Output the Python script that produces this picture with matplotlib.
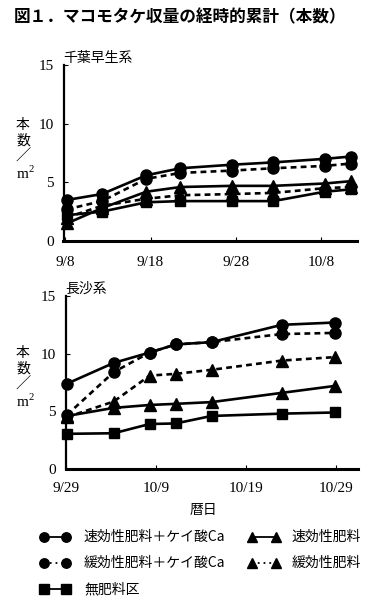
import matplotlib
matplotlib.use('Agg')
import matplotlib.pyplot as plt
from matplotlib.lines import Line2D

plt.rcParams['font.family'] = ['Liberation Serif', 'Noto Sans CJK JP']

W, H = 381, 611

# ---- data: 千葉早生系 (days after 9/8)
chiba_days = [0.2, 4.3, 9.5, 13.5, 19.5, 24.4, 30.4, 33.5]
chiba_fast_si = [3.5, 4.0, 5.6, 6.2, 6.5, 6.7, 7.0, 7.2]
chiba_slow_si = [2.7, 3.4, 5.3, 5.8, 6.0, 6.2, 6.4, 6.6]
chiba_fast = [1.5, 2.8, 4.2, 4.6, 4.7, 4.7, 4.9, 5.1]
chiba_slow = [2.0, 3.0, 3.6, 3.9, 4.0, 4.1, 4.5, 4.6]
chiba_none = [2.2, 2.5, 3.3, 3.4, 3.4, 3.4, 4.2, 4.4]
chiba_ticks = [0, 10, 20, 30]
chiba_ticklabels = ['9/8', '9/18', '9/28', '10/8']

# ---- data: 長沙系 (days after 9/29)
cs_days = [0.1, 5.3, 9.3, 12.2, 16.2, 24.0, 29.9]
cs_fast_si = [7.4, 9.2, 10.1, 10.8, 11.0, 12.5, 12.7]
cs_slow_si = [4.7, 8.4, 10.1, 10.8, 11.0, 11.7, 11.8]
cs_fast = [4.6, 5.3, 5.55, 5.65, 5.8, 6.6, 7.2]
cs_slow = [4.5, 5.85, 8.1, 8.25, 8.6, 9.4, 9.7]
cs_none = [3.05, 3.1, 3.9, 3.95, 4.6, 4.8, 4.9]
cs_ticks = [0, 10, 20, 30]
cs_ticklabels = ['9/29', '10/9', '10/19', '10/29']

yticks = [0, 5, 10, 15]

series_labels = ['速効性肥料＋ケイ酸Ca', '緩効性肥料＋ケイ酸Ca', '速効性肥料', '緩効性肥料', '無肥料区']

CJK = ['Noto Sans CJK JP', 'DejaVu Sans']
SERIF = ['Liberation Serif', 'Noto Sans CJK JP']

fig = plt.figure(figsize=(W / 100, H / 100), dpi=100)

def fx(px):
    return px / W

def fy(py):
    return 1 - py / H

LW = 1.9
DASH = (0, (2.2, 1.6))
styles = [
    dict(marker='o', ls='-', ms=8.0),
    dict(marker='o', ls=DASH, ms=8.0),
    dict(marker='^', ls='-', ms=8.5),
    dict(marker='^', ls=DASH, ms=8.5),
    dict(marker='s', ls='-', ms=7.5),
]

def make_panel(rect, days, series, xlim, ticks, ticklabels, title, xpad):
    ax = fig.add_axes(rect)
    for vals, st in zip(series, styles):
        ax.plot(days, vals, color='black', lw=LW, marker=st['marker'], ms=st['ms'],
                linestyle=st['ls'], markerfacecolor='black', markeredgecolor='black',
                clip_on=False)
    ax.set_xlim(*xlim)
    ax.set_ylim(0, 15)
    ax.set_yticks(yticks)
    ax.set_xticks(ticks)
    ax.set_xticklabels(ticklabels, fontsize=11, family=SERIF)
    ax.set_yticklabels([str(v) for v in yticks], fontsize=11, family=SERIF)
    for s in ['top', 'right']:
        ax.spines[s].set_visible(False)
    ax.spines['left'].set_linewidth(1.6)
    ax.spines['bottom'].set_linewidth(2.2)
    ax.tick_params(axis='both', direction='in', length=3, width=0.8, colors='black')
    ax.tick_params(axis='y', pad=7)
    ax.tick_params(axis='x', pad=xpad)
    ax.text(0.0, 1.0, title, transform=ax.transAxes, fontsize=10, family=CJK,
            ha='left', va='bottom')
    return ax

ax1 = make_panel([fx(63.5), fy(241), (357 - 63.5) / W, (241 - 65) / H],
                 chiba_days, [chiba_fast_si, chiba_slow_si, chiba_fast, chiba_slow, chiba_none],
                 (-0.2, 34.2), chiba_ticks, chiba_ticklabels, '千葉早生系', 11)
ax2 = make_panel([fx(65.7), fy(469), (358 - 65.7) / W, (469 - 296) / H],
                 cs_days, [cs_fast_si, cs_slow_si, cs_fast, cs_slow, cs_none],
                 (-0.05, 32.5), cs_ticks, cs_ticklabels, '長沙系', 9)

for top in (125, 353):
    fig.text(fx(23), fy(top), '本', fontsize=10, family=CJK, ha='center', va='center')
    fig.text(fx(23), fy(top + 15.5), '数', fontsize=10, family=CJK, ha='center', va='center')
    fig.text(fx(23), fy(top + 31.5), '／', fontsize=11, family=CJK, ha='center', va='center')
    fig.text(fx(25), fy(top + 48), r'm$^{\mathregular{2}}$', fontsize=11, family=SERIF,
             ha='center', va='center')

# title
fig.text(fx(14), fy(17), '図１．マコモタケ収量の経時的累計（本数）', fontsize=12,
         family=CJK, fontweight='bold', ha='left', va='center')

# x label
fig.text(fx(203), fy(510), '暦日', fontsize=10, family=CJK, ha='center', va='center')

# legend
leg_items = [
    (44, 66, 84, 537, 0),
    (44, 66, 84, 563, 1),
    (252, 276, 292, 537, 2),
    (252, 276, 292, 563, 3),
    (44, 66, 84, 589, 4),
]
leg_styles = [('o', '-'), ('o', (0, (1, 2.2))), ('^', '-'), ('^', (0, (1, 2.2))), ('s', '-')]
for x1, x2, xt, yy, idx in leg_items:
    mk, ls = leg_styles[idx]
    fig.add_artist(Line2D([fx(x1), fx(x2)], [fy(yy), fy(yy)], transform=fig.transFigure,
                          color='black', lw=1.3, linestyle=ls, marker=mk, ms=6.8,
                          markerfacecolor='black', markeredgecolor='black'))
    fig.text(fx(xt), fy(yy), series_labels[idx], fontsize=10, family=CJK,
             ha='left', va='center')

fig.savefig('out.png', dpi=100)
